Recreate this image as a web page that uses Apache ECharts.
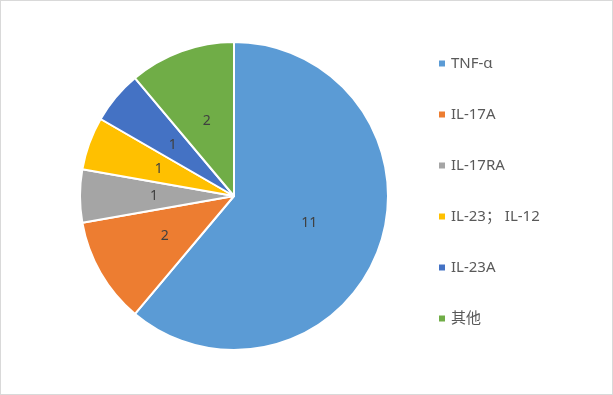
<!DOCTYPE html>
<html>
<head>
<meta charset="utf-8">
<script src="https://cdn.jsdelivr.net/npm/echarts@6/dist/echarts.min.js"></script>
<style>
html,body{margin:0;padding:0;background:#fff;}
#c{width:613px;height:395px;box-sizing:border-box;border:1px solid #D9D9D9;}
</style>
</head>
<body>
<div id="c"></div>
<script>
var categories = ['TNF-α', 'IL-17A', 'IL-17RA', 'IL-23； IL-12', 'IL-23A', '其他'];
var values = [11, 2, 1, 1, 1, 2];
var colors = ['#5B9BD5', '#ED7D31', '#A5A5A5', '#FFC000', '#4472C4', '#70AD47'];

var chart = echarts.init(document.getElementById('c'));
chart.setOption({
  animation: false,
  color: colors,
  textStyle: {fontFamily: '"Noto Sans", "Noto Sans CJK SC", sans-serif'},
  legend: {
    orient: 'vertical',
    left: 431,
    top: 50,
    itemWidth: 8,
    itemHeight: 8,
    itemGap: 36,
    icon: 'rect',
    textStyle: {color: '#595959', fontSize: 15, fontFamily: '"Noto Sans", "Noto Sans CJK SC", sans-serif'},
    data: categories
  },
  series: [{
    type: 'pie',
    center: [233, 195],
    radius: [0, 154],
    startAngle: 90,
    clockwise: true,
    label: {
      position: 'inside',
      formatter: '{c}',
      color: '#404040',
      fontSize: 14,
      fontFamily: '"Noto Sans", sans-serif'
    },
    labelLine: {show: false},
    itemStyle: {borderColor: '#fff', borderWidth: 2},
    emphasis: {disabled: true},
    data: categories.map(function(n, i){ return {name: n, value: values[i]}; })
  }]
});
</script>
</body>
</html>
